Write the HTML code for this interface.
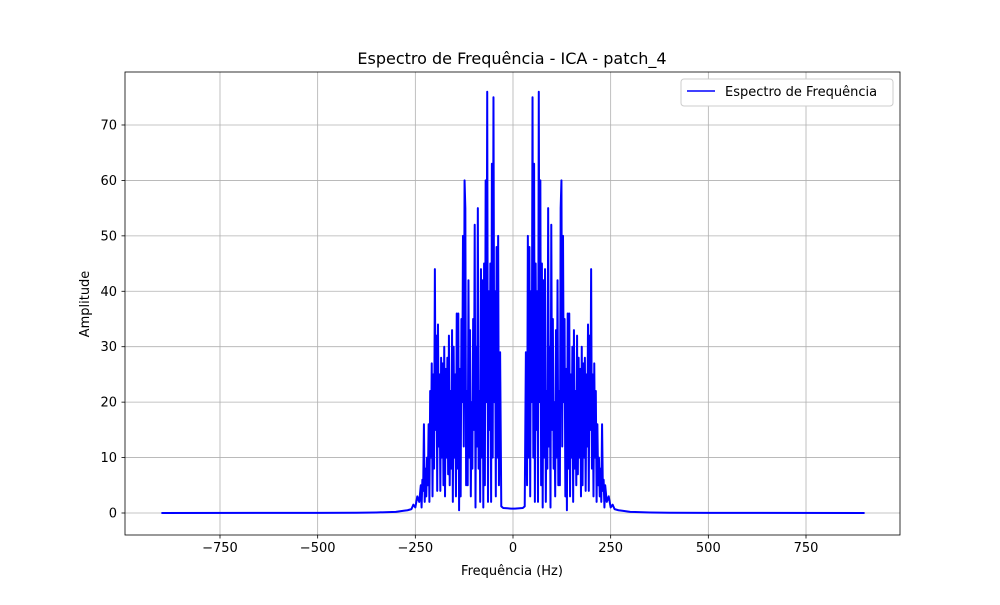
<!DOCTYPE html>
<html><head><meta charset="utf-8"><style>
body{margin:0;background:#fff;font-family:"Liberation Sans","DejaVu Sans",sans-serif}
svg text{font-family:"DejaVu Sans","Liberation Sans",sans-serif}
</style></head><body>
<svg id="chart" width="1000" height="600">
<rect width="1000" height="600" fill="#fff"/>
<g id="grid"></g><g id="ticks"></g>
<g id="series"></g>
<rect x="125" y="72" width="775" height="463" fill="none" stroke="#000" stroke-width="0.8"/>
<text x="512" y="64" text-anchor="middle" font-size="16">Espectro de Frequência - ICA - patch_4</text>
<text x="512" y="575" text-anchor="middle" font-size="13">Frequência (Hz)</text>
<text transform="translate(89,304) rotate(-90)" text-anchor="middle" font-size="13">Amplitude</text>
<g>
<rect x="681" y="79" width="212" height="27" rx="3" fill="#fff" stroke="#ccc"/>
<line x1="687" y1="91" x2="715" y2="91" stroke="#0000ff" stroke-width="1.6"/>
<text x="725" y="96" font-size="13">Espectro de Frequência</text>
</g>
</svg>
<script>
const freqs=[0,5,25,30,33,36,38,40,42,44,46,48,50,52,54,56,58,60,62,64,66,68,70,72,74,76,78,80,82,84,86,88,90,92,94,96,98,100,102,104,106,108,110,112,114,116,118,120,122,124,126,128,130,132,134,136,138,140,142,144,146,148,150,152,154,156,158,160,162,164,166,168,170,172,174,176,178,180,182,184,186,188,190,192,194,196,198,200,202,204,206,208,210,212,214,216,218,220,222,224,226,228,230,232,234,236,240,245,250,255,260,270,280,300,350,400,500,900];
const amps=[0.8,0.8,0.9,1.2,29,5,50,10,48,3,40,20,75,10,63,2,45,15,40,2,76,20,60,5,45,1,42,10,44,2,22,8,55,12,30,1,52,15,35,8,20,3,33,10,42,5,22,5,55,60,12,50,20,35,3,26,0.5,36,8,36,3,25,10,30,2,33,8,22,5,32,7,28,10,26,3,30,5,27,10,28,4,25,12,34,4,32,15,44,8,25,3,27,10,22,2,16,5,10,3,8,2,16,4,6,1,5,2,3,1,1.5,0.7,0.5,0.4,0.2,0.1,0.05,0.02,0];
const xTicks=[-750,-500,-250,0,250,500,750];
const yTicks=[0,10,20,30,40,50,60,70];
const X=v=>513+v*0.39067, Y=v=>513-v*5.543;
const ns='http://www.w3.org/2000/svg';
const grid=document.getElementById('grid'),tk=document.getElementById('ticks'),ser=document.getElementById('series');
function mk(tag,attrs,parent){const e=document.createElementNS(ns,tag);for(const k in attrs)e.setAttribute(k,attrs[k]);parent.appendChild(e);return e;}
xTicks.forEach(v=>{
 const g=mk('line',{x1:X(v),x2:X(v),y1:72,y2:535,stroke:'#b0b0b0','stroke-width':0.8},grid);
 
 
 mk('line',{x1:X(v),x2:X(v),y1:535,y2:538.5,stroke:'#000','stroke-width':0.8},tk);
 const t=mk('text',{x:X(v),y:552,'text-anchor':'middle','font-size':13},tk);
 t.textContent=(v<0?'\u2212'+(-v):v);
 
 
});
yTicks.forEach(v=>{
 const g=mk('line',{x1:125,x2:900,y1:Y(v),y2:Y(v),stroke:'#b0b0b0','stroke-width':0.8},grid);
 
 
 mk('line',{x1:121.5,x2:125,y1:Y(v),y2:Y(v),stroke:'#000','stroke-width':0.8},tk);
 const t=mk('text',{x:117,y:Y(v)+4.5,'text-anchor':'end','font-size':13},tk);
 t.textContent=v;
 
 
});
const pts=[];
for(let i=freqs.length-1;i>0;i--)pts.push([-freqs[i],amps[i]]);
for(let i=0;i<freqs.length;i++)pts.push([freqs[i],amps[i]]);
const line=mk('polyline',{points:pts.map(p=>X(p[0]).toFixed(2)+','+Y(p[1]).toFixed(2)).join(' '),fill:'none',stroke:'#0000ff','stroke-width':2,'stroke-linejoin':'round'},ser);


</script>
</body></html>
